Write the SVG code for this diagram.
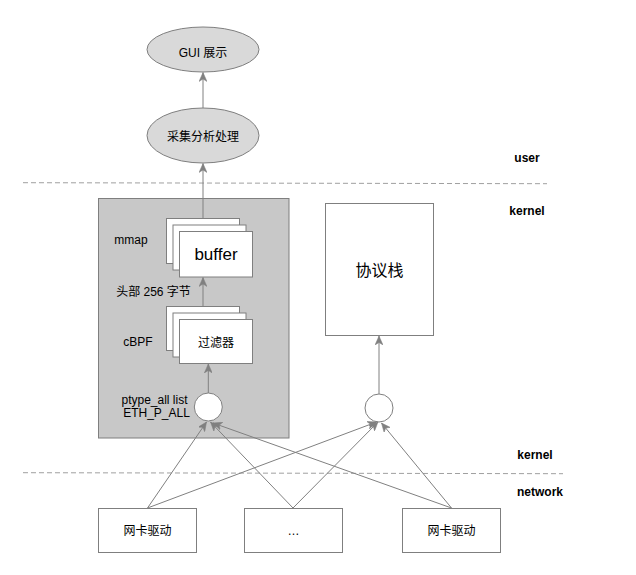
<svg xmlns="http://www.w3.org/2000/svg" width="636" height="575" viewBox="0 0 636 575">
<defs>
<style>
text{font-family:"Liberation Sans","Noto Sans CJK SC",sans-serif;fill:#000;text-anchor:middle}
.shape{stroke:#7f7f7f;stroke-width:1}
.conn{stroke:#808080;stroke-width:1;fill:none}
.arr{marker-end:url(#ah)}
.dash{stroke:#a0a0a0;stroke-width:1;stroke-dasharray:5 3;fill:none}
.lbl{font-size:12px}
.bold{font-size:12px;font-weight:bold}
</style>
<marker id="ah" markerUnits="userSpaceOnUse" markerWidth="10" markerHeight="8" refX="9" refY="4" orient="auto">
<path d="M0,0 L9,4 L0,8 L2.5,4 Z" fill="#808080" stroke="#808080" stroke-width="0.5"/>
</marker>
</defs>
<rect width="636" height="575" fill="#fff"/>

<g id="separators">
<line class="dash" x1="23" y1="182.7" x2="547" y2="183.7"/>
<line class="dash" x1="23" y1="472.7" x2="563" y2="473.7"/>
</g>

<g id="layer-labels">
<text class="bold" x="527" y="162">user</text>
<text class="bold" x="527" y="215">kernel</text>
<text class="bold" x="535" y="459">kernel</text>
<text class="bold" x="540" y="496">network</text>
</g>

<g id="kernel-box">
<rect class="shape" x="98.5" y="198.5" width="190.5" height="239.5" fill="#c8c8c8"/>
</g>

<g id="gui">
<ellipse class="shape" cx="203" cy="49.5" rx="56" ry="22.5" fill="#d9d9d9"/>
<text class="lbl" x="203" y="57">GUI 展示</text>
</g>

<g id="collect">
<ellipse class="shape" cx="203" cy="135.5" rx="56" ry="27.5" fill="#d9d9d9"/>
<text class="lbl" x="203" y="141">采集分析处理</text>
</g>

<g id="buffer">
<rect class="shape" x="166.5" y="218.5" width="73" height="45" fill="#fff"/>
<rect class="shape" x="173" y="225" width="73" height="45" fill="#fff"/>
<rect class="shape" x="179.5" y="231.5" width="73" height="45.5" fill="#fff"/>
<text x="216" y="259.5" style="font-size:17px">buffer</text>
</g>

<g id="filter">
<rect class="shape" x="166.5" y="306.5" width="73" height="44" fill="#fff"/>
<rect class="shape" x="173" y="313" width="73" height="44" fill="#fff"/>
<rect class="shape" x="179.5" y="319.5" width="73" height="44" fill="#fff"/>
<text class="lbl" x="216" y="347">过滤器</text>
</g>

<g id="kernel-labels">
<text class="lbl" x="131" y="244">mmap</text>
<text class="lbl" x="153.5" y="296">头部 256 字节</text>
<text class="lbl" x="138" y="346">cBPF</text>
<text class="lbl" x="154.5" y="403.5">ptype_all list</text>
<text class="lbl" x="156.5" y="417">ETH_P_ALL</text>
</g>

<g id="ptype-node">
<circle class="shape" cx="208.3" cy="407" r="14" fill="#fff"/>
</g>

<g id="stack">
<rect class="shape" x="325.5" y="203.5" width="108" height="132" fill="#fff"/>
<text x="379.5" y="276" style="font-size:16px">协议栈</text>
</g>

<g id="stack-node">
<circle class="shape" cx="379" cy="408" r="14" fill="#fff"/>
</g>

<g id="nic1">
<rect class="shape" x="98.5" y="508.5" width="98" height="44" fill="#fff"/>
<text class="lbl" x="147.5" y="535">网卡驱动</text>
</g>
<g id="nic2">
<rect class="shape" x="244.5" y="508.5" width="98" height="44" fill="#fff"/>
<text class="lbl" x="293.5" y="535">…</text>
</g>
<g id="nic3">
<rect class="shape" x="402.5" y="508.5" width="98" height="44" fill="#fff"/>
<text class="lbl" x="451.5" y="535">网卡驱动</text>
</g>

<g id="connectors">
<line class="conn arr" x1="203" y1="108" x2="203" y2="72.5"/>
<line class="conn arr" x1="203" y1="218.5" x2="203" y2="163.5"/>
<line class="conn arr" x1="203" y1="306.5" x2="203" y2="277.5"/>
<line class="conn arr" x1="208.3" y1="393" x2="208.3" y2="364"/>
<line class="conn arr" x1="379" y1="394" x2="379" y2="336"/>
<line class="conn arr" x1="147.5" y1="508" x2="206.5" y2="422"/>
<line class="conn arr" x1="147.5" y1="508" x2="376.5" y2="422"/>
<line class="conn arr" x1="293" y1="508" x2="210.5" y2="422"/>
<line class="conn arr" x1="293" y1="508" x2="378" y2="422"/>
<line class="conn arr" x1="451.5" y1="508" x2="213" y2="423"/>
<line class="conn arr" x1="451.5" y1="508" x2="381.5" y2="423"/>
</g>
</svg>
